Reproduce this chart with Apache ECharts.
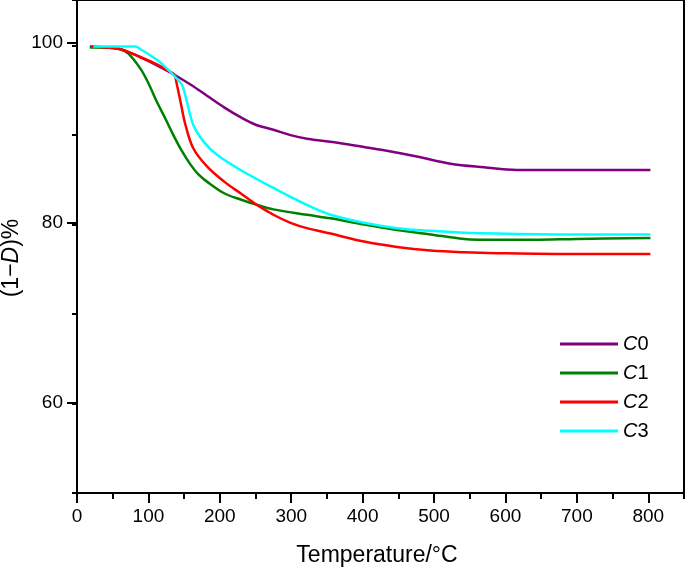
<!DOCTYPE html>
<html>
<head>
<meta charset="utf-8">
<script src="https://cdn.jsdelivr.net/npm/echarts@6/dist/echarts.min.js"></script>
<style>
html,body{margin:0;padding:0;background:#fff;}
#chart{width:685px;height:570px;}
</style>
</head>
<body>
<div id="chart"></div>
<script>
var seriesNames = ['C0', 'C1', 'C2', 'C3'];
var seriesColors = ['#800080', '#008000', '#ff0000', '#00ffff'];

var c0T = [18, 40, 61, 89, 112, 135, 160, 182, 206, 229, 252, 275, 299, 322, 369, 400, 430, 476, 523, 570, 616, 700, 803];
var c0V = [99.9, 99.8, 99.6, 98.7, 97.8, 96.8, 95.6, 94.4, 93.1, 92.0, 91.1, 90.6, 90.0, 89.6, 89.1, 88.7, 88.3, 87.6, 86.8, 86.4, 86.1, 86.1, 86.1];

var c1T = [18, 40, 61, 72, 89, 100, 112, 124, 135, 147, 159, 170, 182, 206, 229, 252, 275, 322, 355, 402, 448, 495, 542, 588, 640, 700, 803];
var c1V = [99.8, 99.8, 99.6, 99.1, 97.4, 95.8, 93.7, 91.8, 90.0, 88.2, 86.7, 85.6, 84.8, 83.5, 82.8, 82.2, 81.7, 81.1, 80.7, 80.0, 79.4, 78.9, 78.4, 78.3, 78.3, 78.4, 78.5];

var c2T = [21, 40, 61, 89, 112, 130, 136, 140, 145, 152, 163, 182, 206, 229, 252, 275, 299, 322, 355, 402, 448, 495, 542, 588, 700, 803];
var c2V = [99.9, 99.8, 99.6, 98.7, 97.9, 97.1, 96.8, 95.6, 93.7, 91.1, 88.5, 86.5, 84.8, 83.5, 82.2, 81.1, 80.2, 79.6, 79.0, 78.1, 77.5, 77.1, 76.9, 76.8, 76.7, 76.7];

var c3T = [23, 50, 82, 89, 103, 117, 135, 147, 154, 163, 177, 196, 229, 275, 322, 355, 402, 448, 495, 542, 588, 700, 803];
var c3V = [99.9, 99.9, 99.9, 99.6, 98.9, 98.1, 96.7, 95.6, 93.7, 91.1, 89.3, 87.8, 86.1, 84.1, 82.2, 81.1, 80.2, 79.6, 79.3, 79.1, 79.0, 78.9, 78.9];

var xTickLabels = [0, 100, 200, 300, 400, 500, 600, 700, 800];
var yTickLabels = [60, 80, 100];

var xTitle = 'Temperature/°C';
var yTitle = '(1\u2212{i|D})%';

function pairs(t, v) { return t.map(function (x, i) { return [x, v[i]]; }); }
var allT = [c0T, c1T, c2T, c3T];
var allV = [c0V, c1V, c2V, c3V];

var FONT = 'Liberation Sans';
var chart = echarts.init(document.getElementById('chart'));

var series = seriesNames.map(function (n, i) {
  return {
    name: n, type: 'line', xAxisIndex: 0, yAxisIndex: 0,
    data: pairs(allT[i], allV[i]),
    showSymbol: false, smooth: 0.35,
    lineStyle: { color: seriesColors[i], width: 2.5 },
    itemStyle: { color: seriesColors[i] }
  };
});

chart.setOption({
  animation: false,
  backgroundColor: '#fff',
  grid: [
    { left: 77, top: -3, width: 607, height: 496, show: true, borderColor: '#000', borderWidth: 2, backgroundColor: 'transparent' },
    { left: 77, top: -3, width: 571.3, height: 496 },
    { left: 77, top: 43, width: 607, height: 360 }
  ],
  xAxis: [
    { gridIndex: 0, type: 'value', min: 0, max: 850, interval: 50,
      axisLine: { show: true, lineStyle: { color: '#000', width: 2 } },
      axisTick: { show: true, length: 6, lineStyle: { color: '#000', width: 2 } },
      axisLabel: { show: false }, splitLine: { show: false } },
    { gridIndex: 1, type: 'value', min: xTickLabels[0], max: xTickLabels[xTickLabels.length - 1], interval: 100,
      axisLine: { show: false },
      axisTick: { show: true, length: 10, lineStyle: { color: '#000', width: 2 } },
      axisLabel: { show: true, color: '#000', fontFamily: FONT, fontSize: 19, margin: 14 },
      splitLine: { show: false } },
    { gridIndex: 2, type: 'value', min: 0, max: 850, show: false }
  ],
  yAxis: [
    { gridIndex: 0, type: 'value', min: 50, max: 105.1, interval: 10,
      axisLine: { show: true, lineStyle: { color: '#000', width: 2 } },
      axisTick: { show: true, length: 5, lineStyle: { color: '#000', width: 2 } },
      axisLabel: { show: false }, splitLine: { show: false } },
    { gridIndex: 1, type: 'value', min: 50, max: 105.1, show: false },
    { gridIndex: 2, type: 'value', min: yTickLabels[0], max: yTickLabels[yTickLabels.length - 1], interval: 20,
      axisLine: { show: false },
      axisTick: { show: true, length: 10, lineStyle: { color: '#000', width: 2 } },
      axisLabel: { show: true, color: '#000', fontFamily: FONT, fontSize: 19, margin: 14 },
      splitLine: { show: false } }
  ],
  legend: {
    orient: 'vertical', left: 555, top: 329,
    icon: 'rect', itemWidth: 58, itemHeight: 3, itemGap: 9,
    data: seriesNames,
    formatter: function (name) { return '{i|' + name.charAt(0) + '}' + name.slice(1); },
    textStyle: { color: '#000', fontFamily: FONT, fontSize: 20, lineHeight: 20,
      rich: { i: { fontStyle: 'italic', fontFamily: FONT, fontSize: 20, color: '#000' } } }
  },
  graphic: [
    { type: 'text', x: 377, y: 556, style: { text: xTitle, font: '23px "Liberation Sans"', fill: '#000', align: 'center', verticalAlign: 'middle' } },
    { type: 'text', x: 12, y: 258, rotation: Math.PI / 2,
      style: { text: yTitle, font: '23px "Liberation Sans"', fill: '#000', align: 'center', verticalAlign: 'middle',
        rich: { i: { fontStyle: 'italic', fontFamily: FONT, fontSize: 23, fill: '#000' } } } }
  ],
  series: series
});
</script>
</body>
</html>
